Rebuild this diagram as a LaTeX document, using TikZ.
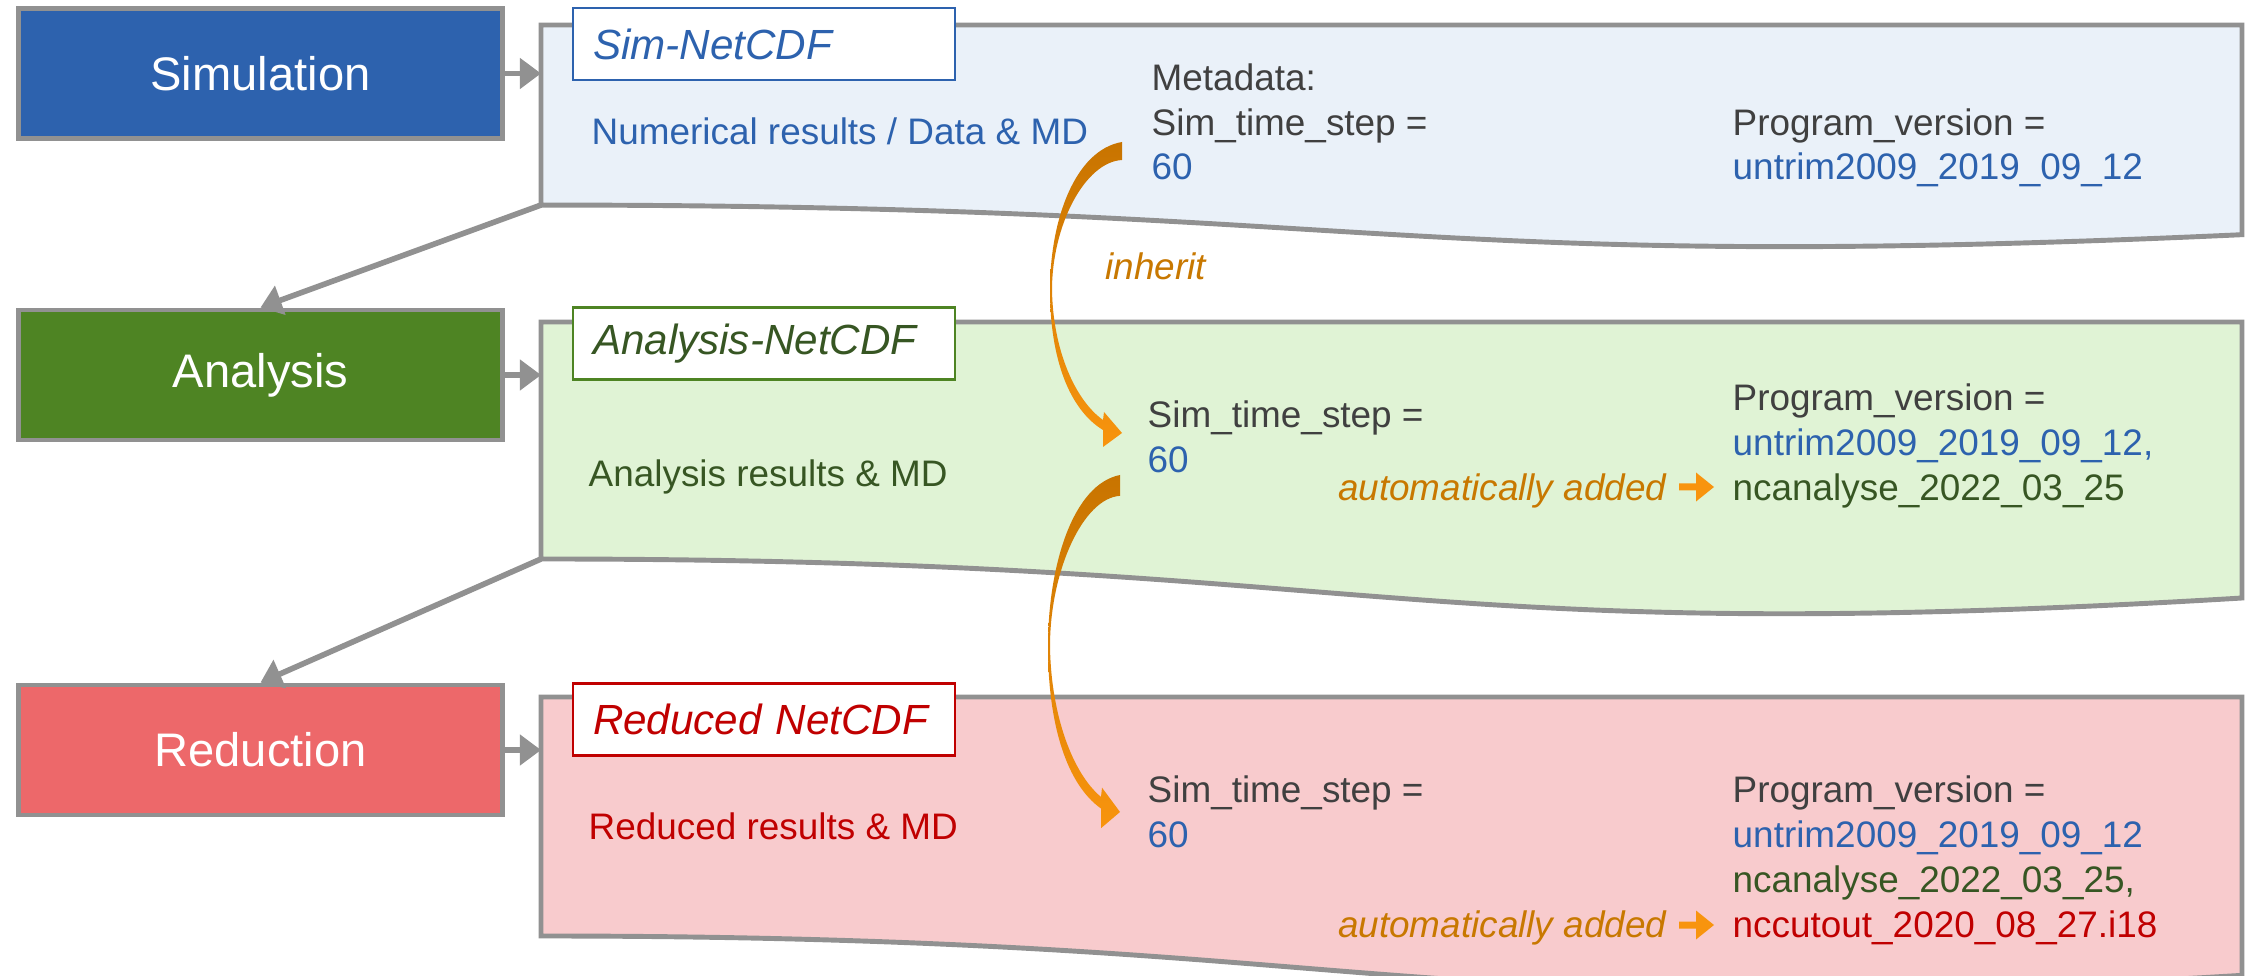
\documentclass[tikz,border=0pt]{standalone}
\usepackage{fontspec}
\setmainfont{Liberation Sans}
\usetikzlibrary{arrows.meta, positioning, calc}

\definecolor{simblue}{RGB}{45,98,174}
\definecolor{simfill}{RGB}{234,241,249}
\definecolor{anagreen}{RGB}{78,132,35}
\definecolor{anatext}{RGB}{55,86,35}
\definecolor{anafill}{RGB}{224,243,213}
\definecolor{redbox}{RGB}{237,104,106}
\definecolor{redtext}{RGB}{192,0,0}
\definecolor{redfill}{RGB}{248,203,205}
\definecolor{edgegrey}{RGB}{145,145,145}
\definecolor{mdgrey}{RGB}{64,64,64}
\definecolor{inhdark}{RGB}{200,116,0}
\definecolor{inhlight}{RGB}{248,148,14}
\definecolor{autotext}{RGB}{200,120,0}

% NetCDF file as a flowchart "document": name, top, height, fill
\newcommand{\ncdoc}[4]{%
  \coordinate (#1) at (5.41,#2);
  \draw[docedge, fill=#4] (5.41,#2) -- (22.42,#2) -- (22.42,{#2-0.934*#3})
    .. controls (13.915,{#2-1.1075*#3}) and (13.915,{#2-0.802*#3})
    .. (5.41,{#2-0.802*#3}) coordinate (#1-bl) -- cycle;
}

\tikzset{
  inherit arrow/.pic={
    \path[top color=inhdark, bottom color=inhlight]
      (0,0) .. controls (-0.47,-0.08) and (-0.72,-0.78) .. (-0.72,-1.48)
      .. controls (-0.72,-2.18) and (-0.52,-2.68) .. (-0.19,-2.88)
      -- (-0.19,-3.05) -- (0,-2.91) -- (-0.18,-2.70) -- (-0.19,-2.78)
      .. controls (-0.47,-2.58) and (-0.69,-2.08) .. (-0.70,-1.48)
      .. controls (-0.70,-0.83) and (-0.37,-0.20) .. (0,-0.18) -- cycle;
  },
  add arrow/.pic={
    \fill[inhlight] (0,-0.035) -- (0.17,-0.035) -- (0.17,-0.145) -- (0.35,0)
      -- (0.17,0.145) -- (0.17,0.035) -- (0,0.035) -- cycle;
  }
}

\begin{document}
\begin{tikzpicture}[
  procbox/.style={rectangle, draw=edgegrey, line width=1.4pt, minimum width=4.84cm,
                  minimum height=1.30cm, text=white, font=\fontsize{13.4}{16}\selectfont},
  tab/.style={rectangle, fill=white, line width=0.6pt, anchor=west, text width=3.42cm,
              inner xsep=0.2cm, minimum height=0.72cm, align=left,
              font=\fontsize{12}{14}\selectfont\itshape},
  docedge/.style={draw=edgegrey, line width=1.4pt},
  bodytxt/.style={anchor=base west, align=left, inner sep=0pt, text=mdgrey,
                  font=\fontsize{10.5}{12.8}\selectfont},
  autotxt/.style={anchor=base east, inner sep=0pt, text=autotext,
                  font=\fontsize{10.5}{12.8}\selectfont\itshape},
  flowarr/.style={draw=edgegrey, line width=1.6pt, -{Triangle[length=6pt,width=8.5pt]}}
]
\useasboundingbox (0,0) rectangle (22.48,9.75);
\fill[white] (0,0) rectangle (22.48,9.75);
\clip (0,0) rectangle (22.48,9.75);

% process steps
\node[procbox, fill=simblue] (sim) at (2.605,9.015) {Simulation};
\node[procbox, fill=anagreen] (ana) at (2.605,6.00) {Analysis};
\node[procbox, fill=redbox] (red) at (2.605,2.25) {Reduction};

% files
\ncdoc{simdoc}{9.50}{2.245}{simfill}
\ncdoc{anadoc}{6.53}{2.955}{anafill}
\ncdoc{reddoc}{2.78}{2.98}{redfill}

\node[tab, draw=simblue, text=simblue] (simtab) at (5.72,9.31) {Sim-NetCDF};
\node[tab, draw=anagreen, text=anatext] (anatab) at (5.72,6.315) {Analysis-NetCDF};
\node[tab, draw=redtext, text=redtext] (redtab) at (5.72,2.555) {Reduced NetCDF};

% simulation file (base = last line)
\node[bodytxt, text=simblue] (simres) at (5.91,8.30) {Numerical results / Data \& MD};
\node[bodytxt] (simmeta) at (11.51,7.95)
  {Metadata:\\Sim\_time\_step =\\\textcolor{simblue}{60}};
\node[bodytxt] (simprog) at (17.32,7.95)
  {Program\_version =\\\textcolor{simblue}{untrim2009\_2019\_09\_12}};

% analysis file
\node[bodytxt, text=anatext] (anares) at (5.88,4.88) {Analysis results \& MD};
\node[bodytxt] (anastep) at (11.47,5.03) {Sim\_time\_step =\\\textcolor{simblue}{60}};
\node[bodytxt] (anaprog) at (17.32,4.75)
  {Program\_version =\\\textcolor{simblue}{untrim2009\_2019\_09\_12,}\\
   \textcolor{anatext}{ncanalyse\_2022\_03\_25}};
\node[autotxt] (anaauto) at (16.67,4.75) {automatically added};
\pic at ($(anaauto.base east)+(0.12,0.13)$) {add arrow};

% reduced file
\node[bodytxt, text=redtext] (redres) at (5.88,1.36) {Reduced results \& MD};
\node[bodytxt] (redstep) at (11.47,1.28) {Sim\_time\_step =\\\textcolor{simblue}{60}};
\node[bodytxt] (redprog) at (17.32,0.38)
  {Program\_version =\\\textcolor{simblue}{untrim2009\_2019\_09\_12}\\
   \textcolor{anatext}{ncanalyse\_2022\_03\_25,}\\
   \textcolor{redtext}{nccutout\_2020\_08\_27.i18}};
\node[autotxt] (redauto) at (16.67,0.38) {automatically added};
\pic at ($(redauto.base east)+(0.12,0.12)$) {add arrow};

% flow
\draw[flowarr] (sim.east) -- (sim.east -| simdoc);
\draw[flowarr] (ana.east) -- (ana.east -| anadoc);
\draw[flowarr] (red.east) -- (red.east -| reddoc);
\draw[flowarr] (simdoc-bl) -- (ana.north);
\draw[flowarr] (anadoc-bl) -- (red.north);

% inheritance of metadata
\pic at (11.22,8.33) {inherit arrow};
\pic[yscale=1.158] at (11.20,5.00) {inherit arrow};
\node[autotxt, anchor=base west] (inh) at (11.05,6.95) {inherit};
\end{tikzpicture}
\end{document}
